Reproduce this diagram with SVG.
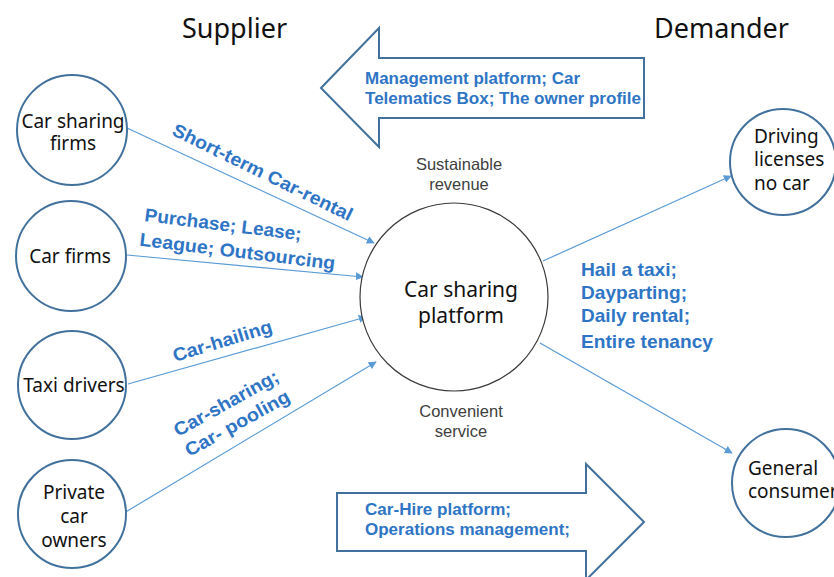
<svg xmlns="http://www.w3.org/2000/svg" width="834" height="577" viewBox="0 0 834 577">
<style>
.node{fill:#fff;stroke:#41719C;stroke-width:2}
.center{fill:#fff;stroke:#3a3a3a;stroke-width:1.2}
.nt{font-family:"Noto Sans","Noto Sans CJK KR",sans-serif;font-size:19px;fill:#111}
.ct{font-family:"Noto Sans","Noto Sans CJK KR",sans-serif;font-size:21px;fill:#111;text-anchor:middle}
.gt{font-family:"Liberation Sans",Arial,sans-serif;font-size:16.5px;fill:#404040;text-anchor:middle}
.bl{font-family:"Liberation Sans",Arial,sans-serif;font-weight:bold;font-size:18.5px;fill:#2F75C5}
.ab{font-family:"Liberation Sans",Arial,sans-serif;font-weight:bold;font-size:16px;fill:#2F75C5}
.title{font-family:"Noto Sans",sans-serif;font-size:27px;fill:#111}
.conn{stroke:#5B9BD5;stroke-width:1.2;fill:none;marker-end:url(#ah)}
.barrow{fill:#fff;stroke:#41719C;stroke-width:2}
</style>
<defs>
<marker id="ah" viewBox="0 0 10 10" refX="9" refY="5" markerWidth="8" markerHeight="8" markerUnits="userSpaceOnUse" orient="auto">
<path d="M0,0 L10,5 L0,10 z" fill="#5B9BD5"/>
</marker>
</defs>
<rect width="834" height="577" fill="#fff"/>
<text class="title" x="182" y="38">Supplier</text>
<text class="title" x="654" y="38">Demander</text>

<g id="arrow-top">
<polygon class="barrow" points="321,88 379,28 379,58 644,58 644,118 379,118 379,147"/>
<text class="ab" x="365" y="84" textLength="215" lengthAdjust="spacingAndGlyphs">Management platform; Car</text>
<text class="ab" x="365" y="104" textLength="276" lengthAdjust="spacingAndGlyphs">Telematics Box; The owner profile</text>
</g>
<g id="arrow-bottom">
<polygon class="barrow" points="337,493 586,493 586,464 644,522 586,580 586,551 337,551"/>
<text class="ab" x="365" y="515" textLength="146" lengthAdjust="spacingAndGlyphs">Car-Hire platform;</text>
<text class="ab" x="365" y="535" textLength="205" lengthAdjust="spacingAndGlyphs">Operations management;</text>
</g>

<g id="connectors">
<line class="conn" x1="127" y1="128" x2="374" y2="243"/>
<line class="conn" x1="127" y1="255" x2="363" y2="277"/>
<line class="conn" x1="128" y1="384" x2="366" y2="317"/>
<line class="conn" x1="124" y1="513" x2="376" y2="362"/>
<line class="conn" x1="543" y1="261" x2="731" y2="176"/>
<line class="conn" x1="540" y1="343" x2="732" y2="453"/>
</g>

<g id="labels">
<text class="bl" transform="translate(260,178) rotate(26)" text-anchor="middle" textLength="198" lengthAdjust="spacingAndGlyphs">Short-term Car-rental</text>
<g transform="translate(144,221) rotate(7)">
<text class="bl" x="0" y="0" textLength="158" lengthAdjust="spacingAndGlyphs">Purchase; Lease;</text>
<text class="bl" x="-2" y="25" textLength="197" lengthAdjust="spacingAndGlyphs">League;  Outsourcing</text>
</g>
<text class="bl" transform="translate(175,362) rotate(-17)" textLength="103" lengthAdjust="spacingAndGlyphs">Car-hailing</text>
<g transform="translate(178,437) rotate(-29)">
<text class="bl" x="0" y="0" textLength="117" lengthAdjust="spacingAndGlyphs">Car-sharing;</text>
<text class="bl" x="0" y="23" textLength="117" lengthAdjust="spacingAndGlyphs">Car- pooling</text>
</g>
<text class="bl" x="581" y="276" textLength="96" lengthAdjust="spacingAndGlyphs">Hail a taxi;</text>
<text class="bl" x="581" y="299" textLength="106" lengthAdjust="spacingAndGlyphs">Dayparting;</text>
<text class="bl" x="581" y="322" textLength="109" lengthAdjust="spacingAndGlyphs">Daily rental;</text>
<text class="bl" x="581" y="348" textLength="132" lengthAdjust="spacingAndGlyphs">Entire tenancy</text>
<text class="gt" x="459" y="170">Sustainable</text>
<text class="gt" x="459" y="190">revenue</text>
<text class="gt" x="461" y="417">Convenient</text>
<text class="gt" x="461" y="437">service</text>
</g>

<g id="node-car-sharing-firms">
<circle class="node" cx="72" cy="130" r="55"/>
<text class="nt" x="73" y="128" text-anchor="middle">Car sharing</text>
<text class="nt" x="73" y="150" text-anchor="middle">firms</text>
</g>
<g id="node-car-firms">
<circle class="node" cx="71" cy="256" r="55"/>
<text class="nt" x="70" y="263" text-anchor="middle">Car firms</text>
</g>
<g id="node-taxi-drivers">
<circle class="node" cx="72" cy="385" r="54"/>
<text class="nt" x="74" y="392" text-anchor="middle">Taxi drivers</text>
</g>
<g id="node-private-car-owners">
<circle class="node" cx="72" cy="514" r="54"/>
<text class="nt" x="74" y="499" text-anchor="middle">Private</text>
<text class="nt" x="74" y="523" text-anchor="middle">car</text>
<text class="nt" x="74" y="547" text-anchor="middle">owners</text>
</g>
<g id="node-platform">
<circle class="center" cx="454" cy="297" r="94"/>
<text class="ct" x="461" y="297">Car sharing</text>
<text class="ct" x="461" y="323">platform</text>
</g>
<g id="node-driving-licenses">
<circle class="node" cx="783" cy="162" r="53"/>
<text class="nt" x="754" y="143">Driving</text>
<text class="nt" x="754" y="166">licenses</text>
<text class="nt" x="754" y="190">no car</text>
</g>
<g id="node-general-consumer">
<circle class="node" cx="786" cy="483" r="54"/>
<text class="nt" x="748" y="475">General</text>
<text class="nt" x="748" y="498">consumer</text>
</g>
</svg>
